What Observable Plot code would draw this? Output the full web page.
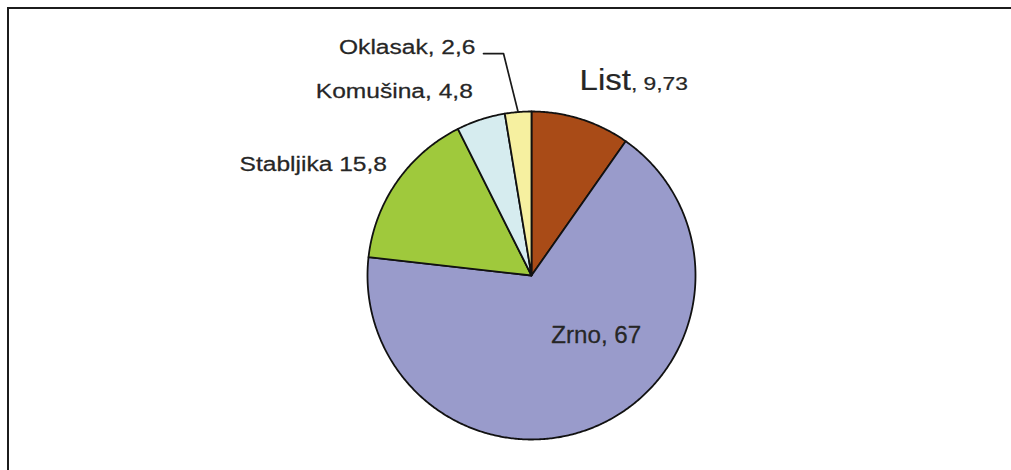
<!DOCTYPE html>
<html><head><meta charset="utf-8">
<script src="https://cdn.jsdelivr.net/npm/d3@7"></script>
<script src="https://cdn.jsdelivr.net/npm/@observablehq/plot@0.6"></script>
<style>
body{margin:0;background:#fff;}
#wrap{position:relative;width:1011px;height:470px;overflow:hidden;}
#frame{position:absolute;left:7px;top:7px;right:-20px;bottom:-20px;border-top:2px solid #1c1c1c;border-left:2px solid #1c1c1c;pointer-events:none;}
svg{display:block;}
</style></head><body>
<div id="wrap"><div id="chart"></div><div id="frame"></div></div>
<script>
// ---- data ----
const categories = ["List", "Zrno", "Stabljika", "Komušina", "Oklasak"];
const values = [9.73, 67, 15.8, 4.8, 2.6];
const valueLabels = ["9,73", "67", "15,8", "4,8", "2,6"];
const palette = ["#a94b17", "#999bcb", "#9fc93c", "#d6ecef", "#f6f0a0"];

// ---- layout ----
const W = 1011, H = 470;
const CX = 531, CY = 275, R = 164;

const arcs = d3.pie().sort(null).value(d => d)(values);
const slices = arcs.map((a, i) => ({name: categories[i], value: values[i], start: a.startAngle, end: a.endAngle, mid: (a.startAngle + a.endAngle) / 2}));

// wedge outlines in unit-circle coordinates (clockwise from 12 o'clock)
const wedgePts = [];
for (const s of slices) {
  wedgePts.push({name: s.name, x: 0, y: 0});
  const n = Math.max(2, Math.ceil((s.end - s.start) / (Math.PI / 360)));
  for (let k = 0; k <= n; k++) {
    const a = s.start + (s.end - s.start) * k / n;
    wedgePts.push({name: s.name, x: Math.sin(a), y: Math.cos(a)});
  }
}
const at = (name, r) => { const s = slices.find(d => d.name === name); return {x: r * Math.sin(s.mid), y: r * Math.cos(s.mid)}; };

// leader for the smallest slice
const e = at("Oklasak", 1);
const knee = {x: e.x - 14.6 / R, y: e.y + 58.5 / R};
const tail = {x: knee.x - 20 / R, y: knee.y};
const leader = [e, knee, tail];

function stretch(sx) {
  return (index, scales, vals, dims, context, next) => {
    const g = next(index, scales, vals, dims, context);
    g.querySelectorAll("text").forEach(t => {
      const tr = t.getAttribute("transform");
      if (tr) t.setAttribute("transform", tr + ` scale(${sx},1)`);
      else {
        const x = t.getAttribute("x") || 0, y = t.getAttribute("y") || 0;
        t.removeAttribute("x"); t.removeAttribute("y");
        t.setAttribute("transform", `translate(${x},${y}) scale(${sx},1)`);
      }
    });
    return g;
  };
}

const font = "'Liberation Sans', Arial, Helvetica, sans-serif";
const txt = "#262626";
const base = {x: "x", y: "y", text: "text", fill: txt, stroke: txt, strokeWidth: 0.25, fontFamily: font, lineAnchor: "bottom"};
const label = (name, text, r, opts) => Plot.text([{...at(name, r), text}], {...base, ...opts});
const idx = n => categories.indexOf(n);

const chart = Plot.plot({
  width: W, height: H,
  margin: 0,
  x: {domain: [-CX / R, (W - CX) / R], range: [0, W], axis: null},
  y: {domain: [-(H - CY) / R, CY / R], range: [H, 0], axis: null},
  color: {domain: categories, range: palette},
  style: {background: "transparent", fontFamily: font},
  marks: [
    Plot.line(wedgePts, {x: "x", y: "y", z: "name", fill: "name", stroke: "#111", strokeWidth: 1.8, strokeLinejoin: "round", curve: "linear-closed"}),
    Plot.line(leader, {x: "x", y: "y", stroke: "#1a1a1a", strokeWidth: 1.7}),
    label("List", "List", 1, {textAnchor: "end", dx: 50, dy: -29, fontSize: 30, strokeWidth: 0.2, render: stretch(1.1)}),
    label("List", ", " + valueLabels[idx("List")], 1, {textAnchor: "start", dx: 50, dy: -29, fontSize: 19, render: stretch(1.2)}),
    label("Zrno", "Zrno, " + valueLabels[idx("Zrno")], 0.5, {textAnchor: "middle", dx: 31, dy: -7, fontSize: 23, render: stretch(1.05)}),
    label("Stabljika", "Stabljika " + valueLabels[idx("Stabljika")], 1, {textAnchor: "end", dx: -10, dy: -11, fontSize: 21, render: stretch(1.17)}),
    label("Komušina", "Komušina, " + valueLabels[idx("Komušina")], 1, {textAnchor: "end", dx: -8, dy: -22, fontSize: 21, render: stretch(1.17)}),
    Plot.text([{...tail, text: "Oklasak, " + valueLabels[idx("Oklasak")]}], {...base, textAnchor: "end", dx: -8, fontSize: 21, render: stretch(1.17)})
  ]
});
document.getElementById("chart").append(chart);
</script>
</body></html>
